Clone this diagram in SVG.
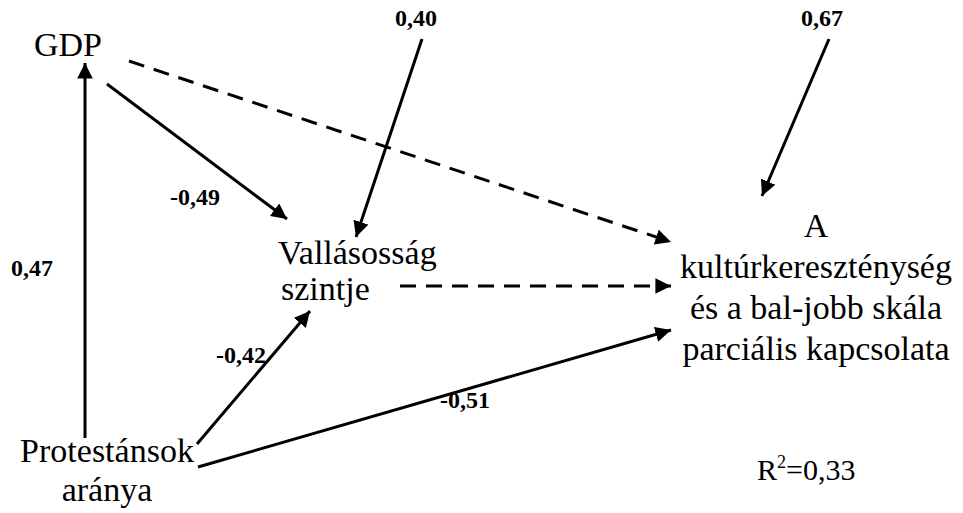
<svg xmlns="http://www.w3.org/2000/svg" width="963" height="513" viewBox="0 0 963 513">
<defs>
<marker id="ah" viewBox="0 0 10 10" refX="10" refY="5" markerWidth="5.2" markerHeight="5.2" markerUnits="strokeWidth" orient="auto">
<path d="M0,0 L10,5 L0,10 z" fill="#000"/>
</marker>
<style>
text{font-family:'Liberation Serif',Tinos,'Times New Roman','DejaVu Serif',serif;fill:#000}
.n{font-size:34px}
.l{font-size:24px;font-weight:bold}
.e{stroke:#000;stroke-width:3;fill:none;marker-end:url(#ah)}
.d{stroke-dasharray:16 10}
</style>
</defs>
<rect width="963" height="513" fill="#fff"/>
<g id="connectors">
<line class="e" x1="85" y1="438" x2="85" y2="63"/>
<line class="e" x1="107" y1="84" x2="287" y2="219"/>
<line class="e" x1="422" y1="39" x2="356" y2="237"/>
<line class="e d" x1="129" y1="61" x2="671" y2="242"/>
<line class="e" x1="829" y1="39" x2="762" y2="196"/>
<line class="e d" x1="400" y1="286" x2="671" y2="286"/>
<line class="e" x1="197" y1="444" x2="310" y2="311"/>
<line class="e" x1="198" y1="467" x2="671" y2="330"/>
</g>
<g id="labels">
<text class="l" x="416" y="26" text-anchor="middle">0,40</text>
<text class="l" x="822" y="26" text-anchor="middle">0,67</text>
<text class="l" x="170" y="205">-0,49</text>
<text class="l" x="11" y="276">0,47</text>
<text class="l" x="216" y="363">-0,42</text>
<text class="l" x="440" y="408">-0,51</text>
</g>
<g id="gdp"><text class="n" x="68" y="56" text-anchor="middle">GDP</text></g>
<g id="vallasossag">
<text class="n" x="278" y="264">Vallásosság</text>
<text class="n" x="281" y="300">szintje</text>
</g>
<g id="protestansok">
<text class="n" x="107" y="462" text-anchor="middle">Protestánsok</text>
<text class="n" x="107" y="501" text-anchor="middle">aránya</text>
</g>
<g id="kulturkeresztenyseg">
<text class="n" x="816" y="237" text-anchor="middle">A</text>
<text class="n" x="816" y="278" text-anchor="middle">kultúrkereszténység</text>
<text class="n" x="816" y="319" text-anchor="middle">és a bal-jobb skála</text>
<text class="n" x="816" y="360" text-anchor="middle">parciális kapcsolata</text>
</g>
<g id="r2"><text x="757" y="480" font-size="30">R<tspan dy="-12" font-size="18">2</tspan><tspan dy="12">=0,33</tspan></text></g>
</svg>
